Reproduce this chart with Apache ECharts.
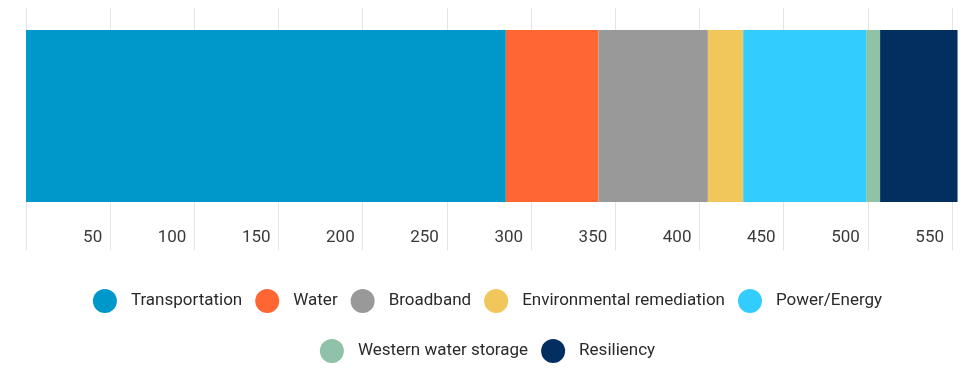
<!DOCTYPE html>
<html>
<head>
<meta charset="utf-8">
<script src="https://cdn.jsdelivr.net/npm/echarts@6/dist/echarts.min.js"></script>
<style>
  html, body { margin: 0; padding: 0; background: #fff; }
  #chart { width: 975px; height: 376px; }
</style>
</head>
<body>
<div id="chart"></div>
<script>
// spending by category (billions)
var categories = ['Transportation', 'Water', 'Broadband', 'Environmental remediation', 'Power/Energy', 'Western water storage', 'Resiliency'];
var values = [285, 55, 65, 21, 73, 8.3, 46];
var colors = ['#0098CA', '#FF6633', '#999999', '#F1C75C', '#33CCFF', '#8FC2A7', '#022F60'];
var legendRow1 = ['Transportation', 'Water', 'Broadband', 'Environmental remediation', 'Power/Energy'];
var legendRow2 = ['Western water storage', 'Resiliency'];

var chart = echarts.init(document.getElementById('chart'));

var seriesList = categories.map(function (name, i) {
  return {
    name: name,
    type: 'bar',
    stack: 'total',
    xAxisIndex: 1,
    yAxisIndex: 1,
    barWidth: '100%',
    clip: false,
    itemStyle: { color: colors[i] },
    data: [values[i]]
  };
});

var legendBase = {
  left: 'center',
  icon: 'circle',
  itemWidth: 24,
  itemHeight: 24,
  itemGap: 13,
  selectedMode: false,
  textStyle: { fontFamily: 'Roboto', fontSize: 17, color: '#2a2a2a', padding: [0, 0, 0, 9] }
};

var option = {
  animation: false,
  color: colors,
  legend: [
    Object.assign({}, legendBase, { top: 284, data: legendRow1 }),
    Object.assign({}, legendBase, { top: 334, data: legendRow2 })
  ],
  grid: [
    { left: 26, right: 23, top: 8, bottom: 126 },
    { left: 26, right: 23, top: 30, height: 172 }
  ],
  xAxis: [
    {
      gridIndex: 0,
      type: 'value',
      min: 0,
      max: 550,
      interval: 50,
      axisLine: { show: false },
      axisTick: { show: false },
      splitLine: { show: true, lineStyle: { color: '#e4e4e4', width: 1 } },
      axisLabel: {
        inside: true,
        margin: 12,
        align: 'right',
        verticalAlign: 'middle',
        padding: [0, 8, 0, 0],
        fontFamily: 'Roboto',
        fontSize: 17,
        color: '#3a3a3a',
        formatter: function (v) { return v === 0 ? '' : v; }
      }
    },
    {
      gridIndex: 1,
      type: 'value',
      min: 0,
      max: 550,
      show: false
    }
  ],
  yAxis: [
    { gridIndex: 0, type: 'category', data: ['bar'], show: false },
    { gridIndex: 1, type: 'category', data: ['bar'], show: false }
  ],
  series: seriesList
};

chart.setOption(option);
</script>
</body>
</html>
